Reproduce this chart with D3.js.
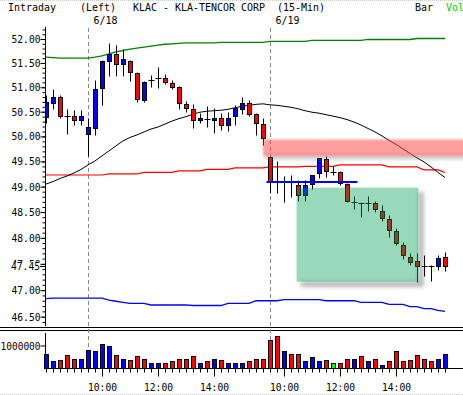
<!DOCTYPE html>
<html>
<head>
<meta charset="utf-8">
<script src="https://cdn.jsdelivr.net/npm/d3@7"></script>
<style>
  html, body { margin: 0; padding: 0; background: #fff; }
  svg { display: block; }
  text { font-family: "DejaVu Sans Mono", monospace; font-size: 11px; fill: #000; }
</style>
</head>
<body>
<svg id="chart" width="463" height="395"></svg>
<script>
// ---- data (KLAC 15-min bars, 6/17 tail, 6/18, 6/19) ----
const times = ("14:30 14:45 15:00 15:15 15:30 15:45 " +
  "09:30 09:45 10:00 10:15 10:30 10:45 11:00 11:15 11:30 11:45 12:00 12:15 12:30 12:45 " +
  "13:00 13:15 13:30 13:45 14:00 14:15 14:30 14:45 15:00 15:15 15:30 15:45 " +
  "09:30 09:45 10:00 10:15 10:30 10:45 11:00 11:15 11:30 11:45 12:00 12:15 12:30 12:45 " +
  "13:00 13:15 13:30 13:45 14:00 14:15 14:30 14:45 15:00 15:15 15:30 15:45").split(" ");
const sessionDates = ["6/17", "6/18", "6/19"];
const sessionStart = [0, 6, 32];
const timeLabels = ["10:00", "12:00", "14:00"];

const open  = [50.39, 50.67, 50.79, 50.41, 50.41, 50.34, 50.04, 50.18, 50.98, 51.55,
               51.68, 51.47, 51.55, 51.29, 50.73, 51.15, 51.20, 51.20, 51.08, 51.01,
               50.66, 50.55, 50.33, 50.36, 50.34, 50.38, 50.24, 50.41, 50.55, 50.67,
               50.45, 50.26, 49.58, 49.10, 49.09, 49.09, 49.03, 48.83, 49.05, 49.27,
               49.54, 49.29, 49.28, 49.05, 48.69, 48.68, 48.68, 48.68, 48.53, 48.36,
               48.13, 47.86, 47.63, 47.55, 47.46, 47.45, 47.46, 47.63];
const high  = [50.85, 50.96, 50.85, 50.55, 50.53, 50.53, 50.38, 51.15, 51.56, 51.91,
               51.87, 51.79, 51.56, 51.31, 51.12, 51.25, 51.41, 51.27, 51.15, 51.03,
               50.71, 50.66, 50.47, 50.62, 50.57, 50.47, 50.49, 50.64, 50.79, 50.73,
               50.48, 50.38, 49.60, 49.50, 49.20, 49.23, 49.13, 49.13, 49.22, 49.57,
               49.60, 49.40, 49.31, 49.07, 48.82, 48.70, 48.81, 48.72, 48.63, 48.44,
               48.20, 47.92, 47.71, 47.71, 47.66, 47.47, 47.67, 47.73];
const low   = [50.28, 50.56, 50.38, 50.04, 50.23, 50.23, 49.61, 50.03, 50.64, 51.24,
               51.24, 51.24, 51.12, 50.70, 50.70, 51.00, 50.98, 51.07, 50.96, 50.55,
               50.50, 50.16, 50.28, 50.19, 50.06, 50.12, 50.10, 50.24, 50.45, 50.42,
               50.03, 49.83, 48.87, 48.87, 48.69, 48.80, 48.71, 48.71, 48.95, 49.18,
               49.19, 49.23, 49.03, 48.69, 48.56, 48.40, 48.52, 48.51, 48.33, 48.02,
               47.86, 47.60, 47.48, 47.15, 47.26, 47.17, 47.38, 47.36];
const close = [50.70, 50.79, 50.42, 50.41, 50.33, 50.41, 50.19, 50.96, 51.54, 51.68,
               51.47, 51.58, 51.31, 50.75, 51.11, 51.15, 51.20, 51.10, 51.01, 50.67,
               50.57, 50.33, 50.38, 50.36, 50.38, 50.23, 50.38, 50.57, 50.67, 50.45,
               50.28, 49.96, 49.11, 49.10, 49.09, 49.09, 48.83, 49.03, 49.22, 49.56,
               49.31, 49.29, 49.08, 48.72, 48.69, 48.68, 48.68, 48.57, 48.38, 48.15,
               47.90, 47.66, 47.53, 47.45, 47.46, 47.45, 47.61, 47.45];

const volume = [650000, 320000, 360000, 580000, 430000, 430000, 800000, 750000, 1060000, 970000,
                580000, 430000, 390000, 530000, 400000, 220000, 260000, 220000, 320000, 430000,
                400000, 530000, 220000, 320000, 430000, 350000, 240000, 260000, 260000, 320000,
                430000, 430000, 1260000, 1400000, 770000, 610000, 610000, 330000, 480000, 330000,
                390000, 260000, 260000, 430000, 430000, 530000, 330000, 430000, 170000, 330000,
                770000, 330000, 390000, 580000, 430000, 330000, 430000, 650000];
// tick direction of each bar's volume: u = up, d = down, n = unchanged
const volDir = "uuddduuuuududdduudddddududuuudddddudduuudnddudududdddddduud".split("");

// overlay studies
const movingAvg = [49.05, 49.10, 49.16, 49.21, 49.27, 49.34, 49.43, 49.51, 49.61, 49.71,
                   49.81, 49.91, 49.98, 50.03, 50.09, 50.15, 50.19, 50.25, 50.31, 50.36,
                   50.40, 50.45, 50.49, 50.51, 50.52, 50.53, 50.55, 50.58, 50.61, 50.63,
                   50.65, 50.66, 50.64, 50.63, 50.61, 50.59, 50.56, 50.52, 50.49, 50.47,
                   50.44, 50.41, 50.38, 50.34, 50.29, 50.23, 50.16, 50.09, 50.01, 49.92,
                   49.84, 49.75, 49.66, 49.57, 49.49, 49.39, 49.28, 49.18];
const upperBand = [51.62, 51.61, 51.60, 51.60, 51.60, 51.60, 51.60, 51.62, 51.65, 51.69,
                   51.73, 51.76, 51.79, 51.81, 51.83, 51.85, 51.87, 51.89, 51.90, 51.91,
                   51.92, 51.92, 51.92, 51.92, 51.92, 51.93, 51.93, 51.93, 51.93, 51.93,
                   51.93, 51.93, 51.95, 51.95, 51.95, 51.95, 51.95, 51.95, 51.97, 51.97,
                   51.97, 51.97, 51.97, 51.97, 51.97, 51.97, 51.99, 51.99, 51.99, 51.99,
                   51.99, 51.99, 51.99, 52.01, 52.01, 52.01, 52.01, 52.01];
const midLine   = [49.23, 49.23, 49.23, 49.23, 49.23, 49.23, 49.23, 49.23, 49.23, 49.25,
                   49.25, 49.25, 49.25, 49.25, 49.28, 49.28, 49.28, 49.28, 49.28, 49.31,
                   49.31, 49.31, 49.31, 49.34, 49.34, 49.34, 49.34, 49.37, 49.37, 49.37,
                   49.37, 49.37, 49.39, 49.39, 49.39, 49.39, 49.39, 49.40, 49.40, 49.40,
                   49.40, 49.40, 49.43, 49.43, 49.43, 49.43, 49.43, 49.43, 49.43, 49.39,
                   49.39, 49.39, 49.39, 49.39, 49.33, 49.33, 49.33, 49.28];
const lowerBand = [46.84, 46.85, 46.85, 46.85, 46.85, 46.85, 46.85, 46.85, 46.85, 46.81,
                   46.79, 46.77, 46.75, 46.75, 46.75, 46.72, 46.72, 46.72, 46.72, 46.72,
                   46.72, 46.71, 46.71, 46.71, 46.71, 46.71, 46.75, 46.75, 46.75, 46.75,
                   46.80, 46.80, 46.80, 46.80, 46.82, 46.82, 46.82, 46.82, 46.82, 46.82,
                   46.80, 46.80, 46.80, 46.80, 46.80, 46.77, 46.77, 46.77, 46.77, 46.73,
                   46.73, 46.73, 46.69, 46.69, 46.65, 46.65, 46.62, 46.60];

// drawn annotations (bar index / price)
const resistZone = { from: 31, to: 60, hi: 49.94, lo: 49.61 };
const declineBox = { from: 35.8, to: 53.2, hi: 48.98, lo: 47.16 };
const supportLine = { from: 31.5, to: 44.5, price: 49.09 };

const priceTicks = [52, 51.5, 51, 50.5, 50, 49.5, 49, 48.5, 48, 47.5, 47, 46.5];

// ---- layout ----
const svg = d3.select("#chart");
const W = 463;
const plotTop = 28, plotBottom = 326, axisX = 45;
const volBase = 368.5;

const x = d3.scaleLinear().domain([0, 57]).range([46, 445]);
const y = d3.scaleLog().domain([46.5, 52]).range([316.7, 39]);
const vy = d3.scaleLinear().domain([0, 1000000]).range([volBase, 345.5]);
const px = i => Math.round(x(i)) + 0.5;
const py = v => Math.round(y(v)) + 0.5;

const defs = svg.append("defs");
defs.append("clipPath").attr("id", "plotClip")
  .append("rect").attr("x", axisX + 1).attr("y", plotTop).attr("width", W - axisX).attr("height", plotBottom - plotTop);
defs.append("filter").attr("id", "soft").attr("x", "-20%").attr("y", "-50%").attr("width", "140%").attr("height", "200%")
  .append("feGaussianBlur").attr("stdDeviation", 1.2);
defs.append("filter").attr("id", "shade").attr("x", "-20%").attr("y", "-50%").attr("width", "140%").attr("height", "200%")
  .append("feGaussianBlur").attr("stdDeviation", 2);

function fitText(sel, charW) {
  sel.each(function () {
    const t = d3.select(this);
    const n = t.text().length;
    if (n) t.attr("textLength", n * charW).attr("lengthAdjust", "spacingAndGlyphs");
  });
}

// frame lines
svg.append("line").attr("x1", 0).attr("x2", W).attr("y1", 0.5).attr("y2", 0.5)
  .attr("stroke", "#c8c8c8").attr("stroke-dasharray", "1,1");
svg.append("line").attr("x1", 0).attr("x2", W).attr("y1", 394.5).attr("y2", 394.5)
  .attr("stroke", "#c8c8c8").attr("stroke-dasharray", "1,1");
[327.5, 330.5].forEach(yy => {
  svg.append("line").attr("x1", 0).attr("x2", W).attr("y1", yy).attr("y2", yy).attr("stroke", "#000");
});

// header
const header = [
  { t: "Intraday", x: 8, y: 11 },
  { t: "(Left)", x: 80, y: 11 },
  { t: "KLAC - KLA-TENCOR CORP", x: 133, y: 11 },
  { t: "(15-Min)", x: 277, y: 11 },
  { t: "Bar", x: 415, y: 11 },
  { t: "Vol", x: 446, y: 11, c: "#00cc00" }
];
svg.append("g").selectAll("text").data(header).join("text")
  .attr("x", d => d.x).attr("y", d => d.y).text(d => d.t)
  .style("fill", d => d.c || "#000")
  .call(fitText, 6);

svg.append("g").selectAll("text").data(sessionDates.slice(1)).join("text")
  .attr("x", (d, i) => px(sessionStart[i + 1]) + 5).attr("y", 24).text(d => d)
  .call(fitText, 6);

// day separators
svg.append("g").selectAll("line").data(sessionStart.slice(1)).join("line")
  .attr("x1", d => px(d)).attr("x2", d => px(d))
  .attr("y1", plotTop).attr("y2", volBase)
  .attr("stroke", "#888").attr("stroke-dasharray", "4,3");

// price axis
const yAxis = svg.append("g").attr("transform", `translate(${axisX + 0.5},0)`)
  .call(d3.axisLeft(y).tickValues(priceTicks).tickFormat(d3.format(".2f")).tickSize(5).tickPadding(0));
yAxis.select(".domain").remove();
yAxis.selectAll("text").call(fitText, 5.8);
const minor = svg.append("g").attr("transform", `translate(${axisX + 0.5},0)`)
  .call(d3.axisLeft(y).tickValues(d3.range(464, 523).map(d => d / 10)).tickFormat("").tickSize(3));
minor.select(".domain").remove();
svg.append("line").attr("x1", axisX + 0.5).attr("x2", axisX + 0.5)
  .attr("y1", plotTop - 1).attr("y2", plotBottom).attr("stroke", "#000");

// last price label
const last = close[close.length - 1];
svg.append("rect").attr("x", 9).attr("y", y(last) - 4).attr("width", 31).attr("height", 9).attr("fill", "#fff");
svg.append("text").attr("x", 40).attr("y", y(last)).attr("dy", "0.32em")
  .attr("text-anchor", "end").text(d3.format(".2f")(last)).call(fitText, 5.8);
svg.append("line").attr("x1", 40).attr("x2", axisX).attr("y1", py(last)).attr("y2", py(last)).attr("stroke", "#000");

// plot
const plot = svg.append("g").attr("clip-path", "url(#plotClip)");

const idx = d3.range(open.length);
const studies = [
  { v: upperBand, c: "#008000", w: 1.3 },
  { v: midLine, c: "#ff0000", w: 1.2 },
  { v: lowerBand, c: "#0000ff", w: 1.3 },
  { v: movingAvg, c: "#000", w: 1 }
];
studies.forEach(s => {
  plot.append("path").datum(idx)
    .attr("fill", "none").attr("stroke", s.c).attr("stroke-width", s.w)
    .attr("d", d3.line().x(i => x(i)).y(i => y(s.v[i])));
});

// candles
const candle = plot.append("g").selectAll("g").data(idx).join("g");
candle.append("line")
  .attr("x1", i => px(i)).attr("x2", i => px(i))
  .attr("y1", i => py(high[i])).attr("y2", i => py(low[i]))
  .attr("stroke", "#000");
candle.filter(i => close[i] !== open[i]).append("rect")
  .attr("x", i => px(i) - 2).attr("width", 4)
  .attr("y", i => py(Math.max(open[i], close[i])))
  .attr("height", i => Math.max(1, py(Math.min(open[i], close[i])) - py(Math.max(open[i], close[i]))))
  .attr("fill", i => close[i] > open[i] ? "#0000ff" : "#ff0000")
  .attr("stroke", "#000");
candle.filter(i => close[i] === open[i]).append("line")
  .attr("x1", i => px(i) - 3).attr("x2", i => px(i) + 3)
  .attr("y1", i => py(close[i])).attr("y2", i => py(close[i]))
  .attr("stroke", "#000");

// annotations
const rz = plot.append("g");
rz.append("rect")
  .attr("x", x(resistZone.from) + 2).attr("y", y(resistZone.lo) - 1)
  .attr("width", x(resistZone.to) - x(resistZone.from)).attr("height", 4)
  .attr("fill", "#777").attr("opacity", 0.5).attr("filter", "url(#shade)");
rz.append("rect")
  .attr("x", x(resistZone.from)).attr("y", y(resistZone.hi))
  .attr("width", x(resistZone.to) - x(resistZone.from))
  .attr("height", y(resistZone.lo) - y(resistZone.hi))
  .attr("fill", "#ff5050").attr("opacity", 0.55).attr("filter", "url(#soft)");

const bx0 = x(declineBox.from), bx1 = x(declineBox.to);
const by0 = y(declineBox.hi), by1 = y(declineBox.lo);
const sh = plot.append("g").attr("filter", "url(#shade)").attr("opacity", 0.45);
sh.append("rect").attr("x", bx1).attr("y", by0 + 4).attr("width", 5).attr("height", by1 - by0 + 1).attr("fill", "#555");
sh.append("rect").attr("x", bx0 + 4).attr("y", by1).attr("width", bx1 - bx0 + 1).attr("height", 5).attr("fill", "#555");
plot.append("rect")
  .attr("x", bx0).attr("y", by0).attr("width", bx1 - bx0).attr("height", by1 - by0)
  .attr("fill", "#00a050").attr("opacity", 0.4);

const sx0 = x(supportLine.from), sx1 = x(supportLine.to), sy = y(supportLine.price);
plot.append("line").attr("x1", sx0).attr("x2", sx1).attr("y1", sy).attr("y2", sy)
  .attr("stroke", "#6060ff").attr("stroke-width", 6).attr("opacity", 0.5).attr("filter", "url(#soft)");
plot.append("line").attr("x1", sx0).attr("x2", sx1).attr("y1", sy).attr("y2", sy)
  .attr("stroke", "#0000ff").attr("stroke-width", 2);

// volume panel
svg.append("line").attr("x1", axisX + 0.5).attr("x2", axisX + 0.5).attr("y1", 333).attr("y2", volBase)
  .attr("stroke", "#000");
const vAxis = svg.append("g").attr("transform", `translate(${axisX + 0.5},0)`)
  .call(d3.axisLeft(vy).tickValues([1000000]).tickFormat(d3.format("d")).tickSize(5).tickPadding(0));
vAxis.select(".domain").remove();
vAxis.selectAll("text").call(fitText, 5.7);

const volColor = { u: "#0000ff", d: "#ff0000", n: "#00ff00" };
svg.append("g").selectAll("rect").data(idx).join("rect")
  .attr("x", i => px(i) - 2).attr("width", 4)
  .attr("y", i => Math.round(vy(volume[i])) + 0.5)
  .attr("height", i => volBase - (Math.round(vy(volume[i])) + 0.5))
  .attr("fill", i => volColor[volDir[i]])
  .attr("stroke", "#000");

svg.append("line").attr("x1", axisX).attr("x2", W).attr("y1", volBase).attr("y2", volBase).attr("stroke", "#000");

// time axis
const isMajor = i => i >= sessionStart[1] && timeLabels.includes(times[i]);
svg.append("g").selectAll("line").data(idx).join("line")
  .attr("x1", i => px(i)).attr("x2", i => px(i))
  .attr("y1", volBase).attr("y2", i => volBase + (isMajor(i) ? 8 : 4))
  .attr("stroke", "#000");
svg.append("g").selectAll("text").data(idx.filter(isMajor)).join("text")
  .attr("x", i => px(i)).attr("y", 391).attr("text-anchor", "middle")
  .text(i => times[i].replace(/^0/, ""))
  .call(fitText, 5.8);
</script>
</body>
</html>
